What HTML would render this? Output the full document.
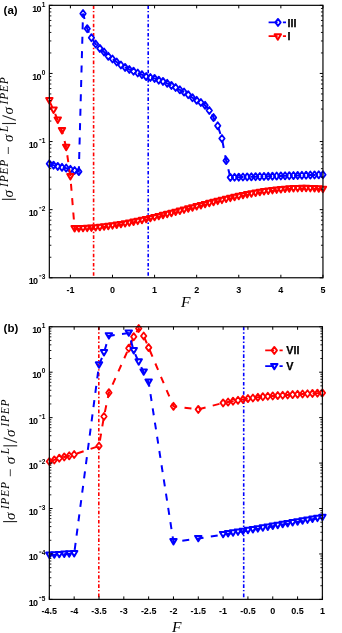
<!DOCTYPE html>
<html><head><meta charset="utf-8"><title>Figure</title><style>
html,body{margin:0;padding:0;background:#fff;}
body{width:342px;height:633px;overflow:hidden;}
svg{display:block;will-change:transform;}
.tk{font-family:"Liberation Sans",sans-serif;font-weight:bold;font-size:9px;fill:#000;}
.ten{letter-spacing:-0.6px;}
.sup{font-size:6.5px;}
.lg{font-family:"Liberation Sans",sans-serif;font-weight:bold;font-size:10.8px;fill:#000;stroke:#000;stroke-width:0.25px;}
.pl{font-family:"Liberation Sans",sans-serif;font-weight:bold;font-size:11.5px;fill:#000;}
.fl{font-family:"Liberation Serif",serif;font-style:italic;font-size:15.5px;fill:#000;}
.ml{font-family:"Liberation Serif",serif;font-style:italic;font-size:15px;fill:#000;}
.ms{font-family:"Liberation Serif",serif;font-style:italic;font-size:11.5px;letter-spacing:0.8px;fill:#000;}
</style></head><body>
<svg width="342" height="633" viewBox="0 0 342 633">
<defs>
<clipPath id="ca"><rect x="49.35" y="5.35" width="273.60" height="272.40"/></clipPath>
<clipPath id="cb"><rect x="49.35" y="326.75" width="273.05" height="272.65"/></clipPath>
</defs>
<rect width="342" height="633" fill="#fff"/>
<line x1="93.60" y1="5.35" x2="93.60" y2="277.75" stroke="#ff0000" stroke-width="1.6" stroke-dasharray="3.6 2 1.4 2.2"/>
<line x1="148.20" y1="5.35" x2="148.20" y2="277.75" stroke="#0000ff" stroke-width="1.6" stroke-dasharray="3.6 2 1.4 2.2"/>
<path d="M49.35,163.80 L53.56,165.20 L57.77,166.40 L61.98,167.30 L66.19,168.10 L70.40,169.30 L74.61,170.50 L78.81,171.60 L83.02,13.60 L87.23,28.70 L91.44,37.70 L95.65,44.00 L99.86,48.40 L104.07,52.00 L108.28,56.30 L112.49,59.00 L116.70,62.00 L120.91,65.00 L125.12,67.40 L129.33,69.50 L133.53,71.20 L137.74,73.00 L141.95,74.70 L146.16,76.60 L150.37,77.50 L154.58,78.40 L158.79,80.20 L163.00,81.40 L167.21,83.30 L171.42,85.40 L175.63,87.50 L179.84,89.80 L184.05,92.10 L188.25,94.70 L192.46,97.70 L196.67,100.30 L200.88,102.50 L205.09,105.30 L209.30,110.50 L213.51,117.60 L217.72,125.80 L221.93,138.50 L226.14,160.60 L230.35,177.40 L234.56,177.28 L238.77,177.15 L242.97,177.03 L247.18,176.91 L251.39,176.79 L255.60,176.66 L259.81,176.54 L264.02,176.42 L268.23,176.30 L272.44,176.17 L276.65,176.05 L280.86,175.93 L285.07,175.80 L289.28,175.68 L293.49,175.56 L297.69,175.44 L301.90,175.31 L306.11,175.19 L310.32,175.07 L314.53,174.95 L318.74,174.82 L322.95,174.70" fill="none" stroke="#0000ff" stroke-width="2" stroke-dasharray="7 7.4" clip-path="url(#ca)"/><polygon points="49.35,160.25 52.05,163.80 49.35,167.35 46.65,163.80" fill="none" stroke="#0000ff" stroke-width="1.8" stroke-linejoin="round"/><polygon points="53.56,161.65 56.26,165.20 53.56,168.75 50.86,165.20" fill="none" stroke="#0000ff" stroke-width="1.8" stroke-linejoin="round"/><polygon points="57.77,162.85 60.47,166.40 57.77,169.95 55.07,166.40" fill="none" stroke="#0000ff" stroke-width="1.8" stroke-linejoin="round"/><polygon points="61.98,163.75 64.68,167.30 61.98,170.85 59.28,167.30" fill="none" stroke="#0000ff" stroke-width="1.8" stroke-linejoin="round"/><polygon points="66.19,164.55 68.89,168.10 66.19,171.65 63.49,168.10" fill="none" stroke="#0000ff" stroke-width="1.8" stroke-linejoin="round"/><polygon points="70.40,165.75 73.10,169.30 70.40,172.85 67.70,169.30" fill="none" stroke="#0000ff" stroke-width="1.8" stroke-linejoin="round"/><polygon points="74.61,166.95 77.31,170.50 74.61,174.05 71.91,170.50" fill="none" stroke="#0000ff" stroke-width="1.8" stroke-linejoin="round"/><polygon points="78.81,168.05 81.51,171.60 78.81,175.15 76.11,171.60" fill="none" stroke="#0000ff" stroke-width="1.8" stroke-linejoin="round"/><polygon points="83.02,10.05 85.72,13.60 83.02,17.15 80.32,13.60" fill="none" stroke="#0000ff" stroke-width="1.8" stroke-linejoin="round"/><polygon points="87.23,25.15 89.93,28.70 87.23,32.25 84.53,28.70" fill="none" stroke="#0000ff" stroke-width="1.8" stroke-linejoin="round"/><polygon points="91.44,34.15 94.14,37.70 91.44,41.25 88.74,37.70" fill="none" stroke="#0000ff" stroke-width="1.8" stroke-linejoin="round"/><polygon points="95.65,40.45 98.35,44.00 95.65,47.55 92.95,44.00" fill="none" stroke="#0000ff" stroke-width="1.8" stroke-linejoin="round"/><polygon points="99.86,44.85 102.56,48.40 99.86,51.95 97.16,48.40" fill="none" stroke="#0000ff" stroke-width="1.8" stroke-linejoin="round"/><polygon points="104.07,48.45 106.77,52.00 104.07,55.55 101.37,52.00" fill="none" stroke="#0000ff" stroke-width="1.8" stroke-linejoin="round"/><polygon points="108.28,52.75 110.98,56.30 108.28,59.85 105.58,56.30" fill="none" stroke="#0000ff" stroke-width="1.8" stroke-linejoin="round"/><polygon points="112.49,55.45 115.19,59.00 112.49,62.55 109.79,59.00" fill="none" stroke="#0000ff" stroke-width="1.8" stroke-linejoin="round"/><polygon points="116.70,58.45 119.40,62.00 116.70,65.55 114.00,62.00" fill="none" stroke="#0000ff" stroke-width="1.8" stroke-linejoin="round"/><polygon points="120.91,61.45 123.61,65.00 120.91,68.55 118.21,65.00" fill="none" stroke="#0000ff" stroke-width="1.8" stroke-linejoin="round"/><polygon points="125.12,63.85 127.82,67.40 125.12,70.95 122.42,67.40" fill="none" stroke="#0000ff" stroke-width="1.8" stroke-linejoin="round"/><polygon points="129.33,65.95 132.03,69.50 129.33,73.05 126.63,69.50" fill="none" stroke="#0000ff" stroke-width="1.8" stroke-linejoin="round"/><polygon points="133.53,67.65 136.23,71.20 133.53,74.75 130.83,71.20" fill="none" stroke="#0000ff" stroke-width="1.8" stroke-linejoin="round"/><polygon points="137.74,69.45 140.44,73.00 137.74,76.55 135.04,73.00" fill="none" stroke="#0000ff" stroke-width="1.8" stroke-linejoin="round"/><polygon points="141.95,71.15 144.65,74.70 141.95,78.25 139.25,74.70" fill="none" stroke="#0000ff" stroke-width="1.8" stroke-linejoin="round"/><polygon points="146.16,73.05 148.86,76.60 146.16,80.15 143.46,76.60" fill="none" stroke="#0000ff" stroke-width="1.8" stroke-linejoin="round"/><polygon points="150.37,73.95 153.07,77.50 150.37,81.05 147.67,77.50" fill="none" stroke="#0000ff" stroke-width="1.8" stroke-linejoin="round"/><polygon points="154.58,74.85 157.28,78.40 154.58,81.95 151.88,78.40" fill="none" stroke="#0000ff" stroke-width="1.8" stroke-linejoin="round"/><polygon points="158.79,76.65 161.49,80.20 158.79,83.75 156.09,80.20" fill="none" stroke="#0000ff" stroke-width="1.8" stroke-linejoin="round"/><polygon points="163.00,77.85 165.70,81.40 163.00,84.95 160.30,81.40" fill="none" stroke="#0000ff" stroke-width="1.8" stroke-linejoin="round"/><polygon points="167.21,79.75 169.91,83.30 167.21,86.85 164.51,83.30" fill="none" stroke="#0000ff" stroke-width="1.8" stroke-linejoin="round"/><polygon points="171.42,81.85 174.12,85.40 171.42,88.95 168.72,85.40" fill="none" stroke="#0000ff" stroke-width="1.8" stroke-linejoin="round"/><polygon points="175.63,83.95 178.33,87.50 175.63,91.05 172.93,87.50" fill="none" stroke="#0000ff" stroke-width="1.8" stroke-linejoin="round"/><polygon points="179.84,86.25 182.54,89.80 179.84,93.35 177.14,89.80" fill="none" stroke="#0000ff" stroke-width="1.8" stroke-linejoin="round"/><polygon points="184.05,88.55 186.75,92.10 184.05,95.65 181.35,92.10" fill="none" stroke="#0000ff" stroke-width="1.8" stroke-linejoin="round"/><polygon points="188.25,91.15 190.95,94.70 188.25,98.25 185.55,94.70" fill="none" stroke="#0000ff" stroke-width="1.8" stroke-linejoin="round"/><polygon points="192.46,94.15 195.16,97.70 192.46,101.25 189.76,97.70" fill="none" stroke="#0000ff" stroke-width="1.8" stroke-linejoin="round"/><polygon points="196.67,96.75 199.37,100.30 196.67,103.85 193.97,100.30" fill="none" stroke="#0000ff" stroke-width="1.8" stroke-linejoin="round"/><polygon points="200.88,98.95 203.58,102.50 200.88,106.05 198.18,102.50" fill="none" stroke="#0000ff" stroke-width="1.8" stroke-linejoin="round"/><polygon points="205.09,101.75 207.79,105.30 205.09,108.85 202.39,105.30" fill="none" stroke="#0000ff" stroke-width="1.8" stroke-linejoin="round"/><polygon points="209.30,106.95 212.00,110.50 209.30,114.05 206.60,110.50" fill="none" stroke="#0000ff" stroke-width="1.8" stroke-linejoin="round"/><polygon points="213.51,114.05 216.21,117.60 213.51,121.15 210.81,117.60" fill="none" stroke="#0000ff" stroke-width="1.8" stroke-linejoin="round"/><polygon points="217.72,122.25 220.42,125.80 217.72,129.35 215.02,125.80" fill="none" stroke="#0000ff" stroke-width="1.8" stroke-linejoin="round"/><polygon points="221.93,134.95 224.63,138.50 221.93,142.05 219.23,138.50" fill="none" stroke="#0000ff" stroke-width="1.8" stroke-linejoin="round"/><polygon points="226.14,157.05 228.84,160.60 226.14,164.15 223.44,160.60" fill="none" stroke="#0000ff" stroke-width="1.8" stroke-linejoin="round"/><polygon points="230.35,173.85 233.05,177.40 230.35,180.95 227.65,177.40" fill="none" stroke="#0000ff" stroke-width="1.8" stroke-linejoin="round"/><polygon points="234.56,173.73 237.26,177.28 234.56,180.83 231.86,177.28" fill="none" stroke="#0000ff" stroke-width="1.8" stroke-linejoin="round"/><polygon points="238.77,173.60 241.47,177.15 238.77,180.70 236.07,177.15" fill="none" stroke="#0000ff" stroke-width="1.8" stroke-linejoin="round"/><polygon points="242.97,173.48 245.67,177.03 242.97,180.58 240.27,177.03" fill="none" stroke="#0000ff" stroke-width="1.8" stroke-linejoin="round"/><polygon points="247.18,173.36 249.88,176.91 247.18,180.46 244.48,176.91" fill="none" stroke="#0000ff" stroke-width="1.8" stroke-linejoin="round"/><polygon points="251.39,173.24 254.09,176.79 251.39,180.34 248.69,176.79" fill="none" stroke="#0000ff" stroke-width="1.8" stroke-linejoin="round"/><polygon points="255.60,173.11 258.30,176.66 255.60,180.21 252.90,176.66" fill="none" stroke="#0000ff" stroke-width="1.8" stroke-linejoin="round"/><polygon points="259.81,172.99 262.51,176.54 259.81,180.09 257.11,176.54" fill="none" stroke="#0000ff" stroke-width="1.8" stroke-linejoin="round"/><polygon points="264.02,172.87 266.72,176.42 264.02,179.97 261.32,176.42" fill="none" stroke="#0000ff" stroke-width="1.8" stroke-linejoin="round"/><polygon points="268.23,172.75 270.93,176.30 268.23,179.85 265.53,176.30" fill="none" stroke="#0000ff" stroke-width="1.8" stroke-linejoin="round"/><polygon points="272.44,172.62 275.14,176.17 272.44,179.72 269.74,176.17" fill="none" stroke="#0000ff" stroke-width="1.8" stroke-linejoin="round"/><polygon points="276.65,172.50 279.35,176.05 276.65,179.60 273.95,176.05" fill="none" stroke="#0000ff" stroke-width="1.8" stroke-linejoin="round"/><polygon points="280.86,172.38 283.56,175.93 280.86,179.48 278.16,175.93" fill="none" stroke="#0000ff" stroke-width="1.8" stroke-linejoin="round"/><polygon points="285.07,172.25 287.77,175.80 285.07,179.35 282.37,175.80" fill="none" stroke="#0000ff" stroke-width="1.8" stroke-linejoin="round"/><polygon points="289.28,172.13 291.98,175.68 289.28,179.23 286.58,175.68" fill="none" stroke="#0000ff" stroke-width="1.8" stroke-linejoin="round"/><polygon points="293.49,172.01 296.19,175.56 293.49,179.11 290.79,175.56" fill="none" stroke="#0000ff" stroke-width="1.8" stroke-linejoin="round"/><polygon points="297.69,171.89 300.39,175.44 297.69,178.99 294.99,175.44" fill="none" stroke="#0000ff" stroke-width="1.8" stroke-linejoin="round"/><polygon points="301.90,171.76 304.60,175.31 301.90,178.86 299.20,175.31" fill="none" stroke="#0000ff" stroke-width="1.8" stroke-linejoin="round"/><polygon points="306.11,171.64 308.81,175.19 306.11,178.74 303.41,175.19" fill="none" stroke="#0000ff" stroke-width="1.8" stroke-linejoin="round"/><polygon points="310.32,171.52 313.02,175.07 310.32,178.62 307.62,175.07" fill="none" stroke="#0000ff" stroke-width="1.8" stroke-linejoin="round"/><polygon points="314.53,171.40 317.23,174.95 314.53,178.50 311.83,174.95" fill="none" stroke="#0000ff" stroke-width="1.8" stroke-linejoin="round"/><polygon points="318.74,171.27 321.44,174.82 318.74,178.37 316.04,174.82" fill="none" stroke="#0000ff" stroke-width="1.8" stroke-linejoin="round"/><polygon points="322.95,171.15 325.65,174.70 322.95,178.25 320.25,174.70" fill="none" stroke="#0000ff" stroke-width="1.8" stroke-linejoin="round"/>
<path d="M49.35,100.80 L53.56,110.20 L57.77,120.20 L61.98,130.70 L66.19,147.50 L70.40,176.80 L74.61,228.70 L78.81,228.68 L83.02,228.58 L87.23,228.40 L91.44,228.15 L95.65,227.83 L99.86,227.44 L104.07,226.99 L108.28,226.47 L112.49,225.90 L116.70,225.27 L120.91,224.59 L125.12,223.86 L129.33,223.09 L133.53,222.27 L137.74,221.41 L141.95,220.51 L146.16,219.58 L150.37,218.61 L154.58,217.62 L158.79,216.61 L163.00,215.57 L167.21,214.51 L171.42,213.44 L175.63,212.35 L179.84,211.25 L184.05,210.15 L188.25,209.04 L192.46,207.93 L196.67,206.82 L200.88,205.72 L205.09,204.62 L209.30,203.54 L213.51,202.47 L217.72,201.41 L221.93,200.38 L226.14,199.37 L230.35,198.39 L234.56,197.43 L238.77,196.51 L242.97,195.62 L247.18,194.77 L251.39,193.96 L255.60,193.20 L259.81,192.48 L264.02,191.81 L268.23,191.20 L272.44,190.64 L276.65,190.14 L280.86,189.70 L285.07,189.33 L289.28,189.03 L293.49,188.79 L297.69,188.64 L301.90,188.56 L306.11,188.56 L310.32,188.64 L314.53,188.81 L318.74,189.07 L322.95,189.42" fill="none" stroke="#ff0000" stroke-width="2" stroke-dasharray="7 7.4" clip-path="url(#ca)"/><polygon points="46.15,98.10 52.55,98.10 49.35,103.50" fill="none" stroke="#ff0000" stroke-width="2.0" stroke-linejoin="round"/><polygon points="50.36,107.50 56.76,107.50 53.56,112.90" fill="none" stroke="#ff0000" stroke-width="2.0" stroke-linejoin="round"/><polygon points="54.57,117.50 60.97,117.50 57.77,122.90" fill="none" stroke="#ff0000" stroke-width="2.0" stroke-linejoin="round"/><polygon points="58.78,128.00 65.18,128.00 61.98,133.40" fill="none" stroke="#ff0000" stroke-width="2.0" stroke-linejoin="round"/><polygon points="62.99,144.80 69.39,144.80 66.19,150.20" fill="none" stroke="#ff0000" stroke-width="2.0" stroke-linejoin="round"/><polygon points="67.20,174.10 73.60,174.10 70.40,179.50" fill="none" stroke="#ff0000" stroke-width="2.0" stroke-linejoin="round"/><polygon points="71.41,226.00 77.81,226.00 74.61,231.40" fill="none" stroke="#ff0000" stroke-width="2.0" stroke-linejoin="round"/><polygon points="75.61,225.98 82.01,225.98 78.81,231.38" fill="none" stroke="#ff0000" stroke-width="2.0" stroke-linejoin="round"/><polygon points="79.82,225.88 86.22,225.88 83.02,231.28" fill="none" stroke="#ff0000" stroke-width="2.0" stroke-linejoin="round"/><polygon points="84.03,225.70 90.43,225.70 87.23,231.10" fill="none" stroke="#ff0000" stroke-width="2.0" stroke-linejoin="round"/><polygon points="88.24,225.45 94.64,225.45 91.44,230.85" fill="none" stroke="#ff0000" stroke-width="2.0" stroke-linejoin="round"/><polygon points="92.45,225.13 98.85,225.13 95.65,230.53" fill="none" stroke="#ff0000" stroke-width="2.0" stroke-linejoin="round"/><polygon points="96.66,224.74 103.06,224.74 99.86,230.14" fill="none" stroke="#ff0000" stroke-width="2.0" stroke-linejoin="round"/><polygon points="100.87,224.29 107.27,224.29 104.07,229.69" fill="none" stroke="#ff0000" stroke-width="2.0" stroke-linejoin="round"/><polygon points="105.08,223.77 111.48,223.77 108.28,229.17" fill="none" stroke="#ff0000" stroke-width="2.0" stroke-linejoin="round"/><polygon points="109.29,223.20 115.69,223.20 112.49,228.60" fill="none" stroke="#ff0000" stroke-width="2.0" stroke-linejoin="round"/><polygon points="113.50,222.57 119.90,222.57 116.70,227.97" fill="none" stroke="#ff0000" stroke-width="2.0" stroke-linejoin="round"/><polygon points="117.71,221.89 124.11,221.89 120.91,227.29" fill="none" stroke="#ff0000" stroke-width="2.0" stroke-linejoin="round"/><polygon points="121.92,221.16 128.32,221.16 125.12,226.56" fill="none" stroke="#ff0000" stroke-width="2.0" stroke-linejoin="round"/><polygon points="126.13,220.39 132.53,220.39 129.33,225.79" fill="none" stroke="#ff0000" stroke-width="2.0" stroke-linejoin="round"/><polygon points="130.33,219.57 136.73,219.57 133.53,224.97" fill="none" stroke="#ff0000" stroke-width="2.0" stroke-linejoin="round"/><polygon points="134.54,218.71 140.94,218.71 137.74,224.11" fill="none" stroke="#ff0000" stroke-width="2.0" stroke-linejoin="round"/><polygon points="138.75,217.81 145.15,217.81 141.95,223.21" fill="none" stroke="#ff0000" stroke-width="2.0" stroke-linejoin="round"/><polygon points="142.96,216.88 149.36,216.88 146.16,222.28" fill="none" stroke="#ff0000" stroke-width="2.0" stroke-linejoin="round"/><polygon points="147.17,215.91 153.57,215.91 150.37,221.31" fill="none" stroke="#ff0000" stroke-width="2.0" stroke-linejoin="round"/><polygon points="151.38,214.92 157.78,214.92 154.58,220.32" fill="none" stroke="#ff0000" stroke-width="2.0" stroke-linejoin="round"/><polygon points="155.59,213.91 161.99,213.91 158.79,219.31" fill="none" stroke="#ff0000" stroke-width="2.0" stroke-linejoin="round"/><polygon points="159.80,212.87 166.20,212.87 163.00,218.27" fill="none" stroke="#ff0000" stroke-width="2.0" stroke-linejoin="round"/><polygon points="164.01,211.81 170.41,211.81 167.21,217.21" fill="none" stroke="#ff0000" stroke-width="2.0" stroke-linejoin="round"/><polygon points="168.22,210.74 174.62,210.74 171.42,216.14" fill="none" stroke="#ff0000" stroke-width="2.0" stroke-linejoin="round"/><polygon points="172.43,209.65 178.83,209.65 175.63,215.05" fill="none" stroke="#ff0000" stroke-width="2.0" stroke-linejoin="round"/><polygon points="176.64,208.55 183.04,208.55 179.84,213.95" fill="none" stroke="#ff0000" stroke-width="2.0" stroke-linejoin="round"/><polygon points="180.85,207.45 187.25,207.45 184.05,212.85" fill="none" stroke="#ff0000" stroke-width="2.0" stroke-linejoin="round"/><polygon points="185.05,206.34 191.45,206.34 188.25,211.74" fill="none" stroke="#ff0000" stroke-width="2.0" stroke-linejoin="round"/><polygon points="189.26,205.23 195.66,205.23 192.46,210.63" fill="none" stroke="#ff0000" stroke-width="2.0" stroke-linejoin="round"/><polygon points="193.47,204.12 199.87,204.12 196.67,209.52" fill="none" stroke="#ff0000" stroke-width="2.0" stroke-linejoin="round"/><polygon points="197.68,203.02 204.08,203.02 200.88,208.42" fill="none" stroke="#ff0000" stroke-width="2.0" stroke-linejoin="round"/><polygon points="201.89,201.92 208.29,201.92 205.09,207.32" fill="none" stroke="#ff0000" stroke-width="2.0" stroke-linejoin="round"/><polygon points="206.10,200.84 212.50,200.84 209.30,206.24" fill="none" stroke="#ff0000" stroke-width="2.0" stroke-linejoin="round"/><polygon points="210.31,199.77 216.71,199.77 213.51,205.17" fill="none" stroke="#ff0000" stroke-width="2.0" stroke-linejoin="round"/><polygon points="214.52,198.71 220.92,198.71 217.72,204.11" fill="none" stroke="#ff0000" stroke-width="2.0" stroke-linejoin="round"/><polygon points="218.73,197.68 225.13,197.68 221.93,203.08" fill="none" stroke="#ff0000" stroke-width="2.0" stroke-linejoin="round"/><polygon points="222.94,196.67 229.34,196.67 226.14,202.07" fill="none" stroke="#ff0000" stroke-width="2.0" stroke-linejoin="round"/><polygon points="227.15,195.69 233.55,195.69 230.35,201.09" fill="none" stroke="#ff0000" stroke-width="2.0" stroke-linejoin="round"/><polygon points="231.36,194.73 237.76,194.73 234.56,200.13" fill="none" stroke="#ff0000" stroke-width="2.0" stroke-linejoin="round"/><polygon points="235.57,193.81 241.97,193.81 238.77,199.21" fill="none" stroke="#ff0000" stroke-width="2.0" stroke-linejoin="round"/><polygon points="239.77,192.92 246.17,192.92 242.97,198.32" fill="none" stroke="#ff0000" stroke-width="2.0" stroke-linejoin="round"/><polygon points="243.98,192.07 250.38,192.07 247.18,197.47" fill="none" stroke="#ff0000" stroke-width="2.0" stroke-linejoin="round"/><polygon points="248.19,191.26 254.59,191.26 251.39,196.66" fill="none" stroke="#ff0000" stroke-width="2.0" stroke-linejoin="round"/><polygon points="252.40,190.50 258.80,190.50 255.60,195.90" fill="none" stroke="#ff0000" stroke-width="2.0" stroke-linejoin="round"/><polygon points="256.61,189.78 263.01,189.78 259.81,195.18" fill="none" stroke="#ff0000" stroke-width="2.0" stroke-linejoin="round"/><polygon points="260.82,189.11 267.22,189.11 264.02,194.51" fill="none" stroke="#ff0000" stroke-width="2.0" stroke-linejoin="round"/><polygon points="265.03,188.50 271.43,188.50 268.23,193.90" fill="none" stroke="#ff0000" stroke-width="2.0" stroke-linejoin="round"/><polygon points="269.24,187.94 275.64,187.94 272.44,193.34" fill="none" stroke="#ff0000" stroke-width="2.0" stroke-linejoin="round"/><polygon points="273.45,187.44 279.85,187.44 276.65,192.84" fill="none" stroke="#ff0000" stroke-width="2.0" stroke-linejoin="round"/><polygon points="277.66,187.00 284.06,187.00 280.86,192.40" fill="none" stroke="#ff0000" stroke-width="2.0" stroke-linejoin="round"/><polygon points="281.87,186.63 288.27,186.63 285.07,192.03" fill="none" stroke="#ff0000" stroke-width="2.0" stroke-linejoin="round"/><polygon points="286.08,186.33 292.48,186.33 289.28,191.73" fill="none" stroke="#ff0000" stroke-width="2.0" stroke-linejoin="round"/><polygon points="290.29,186.09 296.69,186.09 293.49,191.49" fill="none" stroke="#ff0000" stroke-width="2.0" stroke-linejoin="round"/><polygon points="294.49,185.94 300.89,185.94 297.69,191.34" fill="none" stroke="#ff0000" stroke-width="2.0" stroke-linejoin="round"/><polygon points="298.70,185.86 305.10,185.86 301.90,191.26" fill="none" stroke="#ff0000" stroke-width="2.0" stroke-linejoin="round"/><polygon points="302.91,185.86 309.31,185.86 306.11,191.26" fill="none" stroke="#ff0000" stroke-width="2.0" stroke-linejoin="round"/><polygon points="307.12,185.94 313.52,185.94 310.32,191.34" fill="none" stroke="#ff0000" stroke-width="2.0" stroke-linejoin="round"/><polygon points="311.33,186.11 317.73,186.11 314.53,191.51" fill="none" stroke="#ff0000" stroke-width="2.0" stroke-linejoin="round"/><polygon points="315.54,186.37 321.94,186.37 318.74,191.77" fill="none" stroke="#ff0000" stroke-width="2.0" stroke-linejoin="round"/><polygon points="319.75,186.72 326.15,186.72 322.95,192.12" fill="none" stroke="#ff0000" stroke-width="2.0" stroke-linejoin="round"/>
<rect x="49.35" y="5.35" width="273.60" height="272.40" fill="none" stroke="#111" stroke-width="1.25"/><line x1="70.40" y1="277.75" x2="70.40" y2="274.75" stroke="#000" stroke-width="1"/><line x1="70.40" y1="5.35" x2="70.40" y2="8.35" stroke="#000" stroke-width="1"/><line x1="112.49" y1="277.75" x2="112.49" y2="274.75" stroke="#000" stroke-width="1"/><line x1="112.49" y1="5.35" x2="112.49" y2="8.35" stroke="#000" stroke-width="1"/><line x1="154.58" y1="277.75" x2="154.58" y2="274.75" stroke="#000" stroke-width="1"/><line x1="154.58" y1="5.35" x2="154.58" y2="8.35" stroke="#000" stroke-width="1"/><line x1="196.67" y1="277.75" x2="196.67" y2="274.75" stroke="#000" stroke-width="1"/><line x1="196.67" y1="5.35" x2="196.67" y2="8.35" stroke="#000" stroke-width="1"/><line x1="238.77" y1="277.75" x2="238.77" y2="274.75" stroke="#000" stroke-width="1"/><line x1="238.77" y1="5.35" x2="238.77" y2="8.35" stroke="#000" stroke-width="1"/><line x1="280.86" y1="277.75" x2="280.86" y2="274.75" stroke="#000" stroke-width="1"/><line x1="280.86" y1="5.35" x2="280.86" y2="8.35" stroke="#000" stroke-width="1"/><line x1="322.95" y1="277.75" x2="322.95" y2="274.75" stroke="#000" stroke-width="1"/><line x1="322.95" y1="5.35" x2="322.95" y2="8.35" stroke="#000" stroke-width="1"/><line x1="49.35" y1="277.75" x2="52.55" y2="277.75" stroke="#000" stroke-width="1"/><line x1="322.95" y1="277.75" x2="319.75" y2="277.75" stroke="#000" stroke-width="1"/><line x1="49.35" y1="257.25" x2="51.35" y2="257.25" stroke="#000" stroke-width="0.9"/><line x1="322.95" y1="257.25" x2="320.95" y2="257.25" stroke="#000" stroke-width="0.9"/><line x1="49.35" y1="245.26" x2="51.35" y2="245.26" stroke="#000" stroke-width="0.9"/><line x1="322.95" y1="245.26" x2="320.95" y2="245.26" stroke="#000" stroke-width="0.9"/><line x1="49.35" y1="236.75" x2="51.35" y2="236.75" stroke="#000" stroke-width="0.9"/><line x1="322.95" y1="236.75" x2="320.95" y2="236.75" stroke="#000" stroke-width="0.9"/><line x1="49.35" y1="230.15" x2="51.35" y2="230.15" stroke="#000" stroke-width="0.9"/><line x1="322.95" y1="230.15" x2="320.95" y2="230.15" stroke="#000" stroke-width="0.9"/><line x1="49.35" y1="224.76" x2="51.35" y2="224.76" stroke="#000" stroke-width="0.9"/><line x1="322.95" y1="224.76" x2="320.95" y2="224.76" stroke="#000" stroke-width="0.9"/><line x1="49.35" y1="220.20" x2="51.35" y2="220.20" stroke="#000" stroke-width="0.9"/><line x1="322.95" y1="220.20" x2="320.95" y2="220.20" stroke="#000" stroke-width="0.9"/><line x1="49.35" y1="216.25" x2="51.35" y2="216.25" stroke="#000" stroke-width="0.9"/><line x1="322.95" y1="216.25" x2="320.95" y2="216.25" stroke="#000" stroke-width="0.9"/><line x1="49.35" y1="212.77" x2="51.35" y2="212.77" stroke="#000" stroke-width="0.9"/><line x1="322.95" y1="212.77" x2="320.95" y2="212.77" stroke="#000" stroke-width="0.9"/><line x1="49.35" y1="209.65" x2="52.55" y2="209.65" stroke="#000" stroke-width="1"/><line x1="322.95" y1="209.65" x2="319.75" y2="209.65" stroke="#000" stroke-width="1"/><line x1="49.35" y1="189.15" x2="51.35" y2="189.15" stroke="#000" stroke-width="0.9"/><line x1="322.95" y1="189.15" x2="320.95" y2="189.15" stroke="#000" stroke-width="0.9"/><line x1="49.35" y1="177.16" x2="51.35" y2="177.16" stroke="#000" stroke-width="0.9"/><line x1="322.95" y1="177.16" x2="320.95" y2="177.16" stroke="#000" stroke-width="0.9"/><line x1="49.35" y1="168.65" x2="51.35" y2="168.65" stroke="#000" stroke-width="0.9"/><line x1="322.95" y1="168.65" x2="320.95" y2="168.65" stroke="#000" stroke-width="0.9"/><line x1="49.35" y1="162.05" x2="51.35" y2="162.05" stroke="#000" stroke-width="0.9"/><line x1="322.95" y1="162.05" x2="320.95" y2="162.05" stroke="#000" stroke-width="0.9"/><line x1="49.35" y1="156.66" x2="51.35" y2="156.66" stroke="#000" stroke-width="0.9"/><line x1="322.95" y1="156.66" x2="320.95" y2="156.66" stroke="#000" stroke-width="0.9"/><line x1="49.35" y1="152.10" x2="51.35" y2="152.10" stroke="#000" stroke-width="0.9"/><line x1="322.95" y1="152.10" x2="320.95" y2="152.10" stroke="#000" stroke-width="0.9"/><line x1="49.35" y1="148.15" x2="51.35" y2="148.15" stroke="#000" stroke-width="0.9"/><line x1="322.95" y1="148.15" x2="320.95" y2="148.15" stroke="#000" stroke-width="0.9"/><line x1="49.35" y1="144.67" x2="51.35" y2="144.67" stroke="#000" stroke-width="0.9"/><line x1="322.95" y1="144.67" x2="320.95" y2="144.67" stroke="#000" stroke-width="0.9"/><line x1="49.35" y1="141.55" x2="52.55" y2="141.55" stroke="#000" stroke-width="1"/><line x1="322.95" y1="141.55" x2="319.75" y2="141.55" stroke="#000" stroke-width="1"/><line x1="49.35" y1="121.05" x2="51.35" y2="121.05" stroke="#000" stroke-width="0.9"/><line x1="322.95" y1="121.05" x2="320.95" y2="121.05" stroke="#000" stroke-width="0.9"/><line x1="49.35" y1="109.06" x2="51.35" y2="109.06" stroke="#000" stroke-width="0.9"/><line x1="322.95" y1="109.06" x2="320.95" y2="109.06" stroke="#000" stroke-width="0.9"/><line x1="49.35" y1="100.55" x2="51.35" y2="100.55" stroke="#000" stroke-width="0.9"/><line x1="322.95" y1="100.55" x2="320.95" y2="100.55" stroke="#000" stroke-width="0.9"/><line x1="49.35" y1="93.95" x2="51.35" y2="93.95" stroke="#000" stroke-width="0.9"/><line x1="322.95" y1="93.95" x2="320.95" y2="93.95" stroke="#000" stroke-width="0.9"/><line x1="49.35" y1="88.56" x2="51.35" y2="88.56" stroke="#000" stroke-width="0.9"/><line x1="322.95" y1="88.56" x2="320.95" y2="88.56" stroke="#000" stroke-width="0.9"/><line x1="49.35" y1="84.00" x2="51.35" y2="84.00" stroke="#000" stroke-width="0.9"/><line x1="322.95" y1="84.00" x2="320.95" y2="84.00" stroke="#000" stroke-width="0.9"/><line x1="49.35" y1="80.05" x2="51.35" y2="80.05" stroke="#000" stroke-width="0.9"/><line x1="322.95" y1="80.05" x2="320.95" y2="80.05" stroke="#000" stroke-width="0.9"/><line x1="49.35" y1="76.57" x2="51.35" y2="76.57" stroke="#000" stroke-width="0.9"/><line x1="322.95" y1="76.57" x2="320.95" y2="76.57" stroke="#000" stroke-width="0.9"/><line x1="49.35" y1="73.45" x2="52.55" y2="73.45" stroke="#000" stroke-width="1"/><line x1="322.95" y1="73.45" x2="319.75" y2="73.45" stroke="#000" stroke-width="1"/><line x1="49.35" y1="52.95" x2="51.35" y2="52.95" stroke="#000" stroke-width="0.9"/><line x1="322.95" y1="52.95" x2="320.95" y2="52.95" stroke="#000" stroke-width="0.9"/><line x1="49.35" y1="40.96" x2="51.35" y2="40.96" stroke="#000" stroke-width="0.9"/><line x1="322.95" y1="40.96" x2="320.95" y2="40.96" stroke="#000" stroke-width="0.9"/><line x1="49.35" y1="32.45" x2="51.35" y2="32.45" stroke="#000" stroke-width="0.9"/><line x1="322.95" y1="32.45" x2="320.95" y2="32.45" stroke="#000" stroke-width="0.9"/><line x1="49.35" y1="25.85" x2="51.35" y2="25.85" stroke="#000" stroke-width="0.9"/><line x1="322.95" y1="25.85" x2="320.95" y2="25.85" stroke="#000" stroke-width="0.9"/><line x1="49.35" y1="20.46" x2="51.35" y2="20.46" stroke="#000" stroke-width="0.9"/><line x1="322.95" y1="20.46" x2="320.95" y2="20.46" stroke="#000" stroke-width="0.9"/><line x1="49.35" y1="15.90" x2="51.35" y2="15.90" stroke="#000" stroke-width="0.9"/><line x1="322.95" y1="15.90" x2="320.95" y2="15.90" stroke="#000" stroke-width="0.9"/><line x1="49.35" y1="11.95" x2="51.35" y2="11.95" stroke="#000" stroke-width="0.9"/><line x1="322.95" y1="11.95" x2="320.95" y2="11.95" stroke="#000" stroke-width="0.9"/><line x1="49.35" y1="8.47" x2="51.35" y2="8.47" stroke="#000" stroke-width="0.9"/><line x1="322.95" y1="8.47" x2="320.95" y2="8.47" stroke="#000" stroke-width="0.9"/><line x1="49.35" y1="5.35" x2="52.55" y2="5.35" stroke="#000" stroke-width="1"/><line x1="322.95" y1="5.35" x2="319.75" y2="5.35" stroke="#000" stroke-width="1"/>
<text x="70.40" y="292.55" class="tk" text-anchor="middle">-1</text><text x="112.49" y="292.55" class="tk" text-anchor="middle">0</text><text x="154.58" y="292.55" class="tk" text-anchor="middle">1</text><text x="196.67" y="292.55" class="tk" text-anchor="middle">2</text><text x="238.77" y="292.55" class="tk" text-anchor="middle">3</text><text x="280.86" y="292.55" class="tk" text-anchor="middle">4</text><text x="322.95" y="292.55" class="tk" text-anchor="middle">5</text><text x="45.35" y="278.95" class="tk sup" text-anchor="end">3</text><rect x="39.25" y="275.25" width="2.1" height="1.2" fill="#333"/><text x="37.52" y="283.95" class="tk ten" text-anchor="end">10</text><text x="45.35" y="210.85" class="tk sup" text-anchor="end">2</text><rect x="39.25" y="207.15" width="2.1" height="1.2" fill="#333"/><text x="37.52" y="215.85" class="tk ten" text-anchor="end">10</text><text x="45.35" y="142.75" class="tk sup" text-anchor="end">1</text><rect x="39.25" y="139.05" width="2.1" height="1.2" fill="#333"/><text x="37.52" y="147.75" class="tk ten" text-anchor="end">10</text><text x="45.35" y="74.65" class="tk sup" text-anchor="end">0</text><text x="41.01" y="79.65" class="tk ten" text-anchor="end">10</text><text x="45.35" y="6.55" class="tk sup" text-anchor="end">1</text><text x="41.01" y="11.55" class="tk ten" text-anchor="end">10</text>
<line x1="268.6" y1="22.3" x2="286" y2="22.3" stroke="#0000ff" stroke-width="1.8" stroke-dasharray="9 5.3 3.2"/>
<polygon points="278.00,18.85 280.70,22.40 278.00,25.95 275.30,22.40" fill="none" stroke="#0000ff" stroke-width="1.8" stroke-linejoin="round"/>
<text x="287.6" y="26.6" class="lg">III</text>
<line x1="268.6" y1="36.1" x2="286" y2="36.1" stroke="#ff0000" stroke-width="1.8" stroke-dasharray="9 5.3 3.2"/>
<polygon points="274.60,34.30 281.00,34.30 277.80,39.70" fill="none" stroke="#ff0000" stroke-width="2.0" stroke-linejoin="round"/>
<text x="287.6" y="40.2" class="lg">I</text>
<text x="3.6" y="13.9" class="pl">(a)</text>
<text x="181" y="307" class="fl">F</text>
<g transform="translate(13.30,200.00) rotate(-90)"><text x="2.40" y="0.00" class="ml">σ</text><text x="13.00" y="-5.70" class="ms">IPEP</text><text x="44.00" y="0.00" class="ml">−</text><text x="58.00" y="0.00" class="ml">σ</text><text x="68.00" y="-5.70" class="ms">L</text><text x="85.40" y="0.00" class="ml">σ</text><text x="95.50" y="-5.70" class="ms">IPEP</text></g><line x1="1.90" y1="199.30" x2="15.90" y2="199.30" stroke="#222" stroke-width="1.1"/><line x1="2.10" y1="123.50" x2="16.00" y2="123.50" stroke="#222" stroke-width="1.1"/><line x1="2.50" y1="115.40" x2="15.80" y2="120.30" stroke="#222" stroke-width="1.1"/>
<line x1="98.80" y1="326.75" x2="98.80" y2="599.40" stroke="#ff0000" stroke-width="1.6" stroke-dasharray="3.6 2 1.4 2.2"/>
<line x1="243.70" y1="326.75" x2="243.70" y2="599.40" stroke="#0000ff" stroke-width="1.6" stroke-dasharray="3.6 2 1.4 2.2"/>
<path d="M49.35,461.50 L54.31,459.90 L59.28,458.20 L64.24,456.90 L69.21,455.80 L74.17,454.50 L99.00,446.00 L103.96,416.50 L108.92,392.70 L128.78,348.20 L133.75,336.70 L138.71,328.50 L143.68,336.00 L148.64,347.60 L173.46,406.30 L198.29,409.40 L223.11,402.90 L228.07,402.04 L233.04,401.18 L238.00,400.32 L242.97,399.46 L247.93,398.60 L252.90,397.97 L257.86,397.34 L262.83,396.71 L267.79,396.24 L272.75,395.92 L277.72,395.59 L282.68,395.27 L287.65,394.95 L292.61,394.62 L297.58,394.30 L302.54,394.02 L307.51,393.74 L312.47,393.46 L317.44,393.18 L322.40,392.90" fill="none" stroke="#ff0000" stroke-width="2" stroke-dasharray="7 7.4" clip-path="url(#cb)"/><polygon points="49.35,457.95 52.05,461.50 49.35,465.05 46.65,461.50" fill="none" stroke="#ff0000" stroke-width="1.8" stroke-linejoin="round"/><polygon points="54.31,456.35 57.01,459.90 54.31,463.45 51.61,459.90" fill="none" stroke="#ff0000" stroke-width="1.8" stroke-linejoin="round"/><polygon points="59.28,454.65 61.98,458.20 59.28,461.75 56.58,458.20" fill="none" stroke="#ff0000" stroke-width="1.8" stroke-linejoin="round"/><polygon points="64.24,453.35 66.94,456.90 64.24,460.45 61.54,456.90" fill="none" stroke="#ff0000" stroke-width="1.8" stroke-linejoin="round"/><polygon points="69.21,452.25 71.91,455.80 69.21,459.35 66.51,455.80" fill="none" stroke="#ff0000" stroke-width="1.8" stroke-linejoin="round"/><polygon points="74.17,450.95 76.87,454.50 74.17,458.05 71.47,454.50" fill="none" stroke="#ff0000" stroke-width="1.8" stroke-linejoin="round"/><polygon points="99.00,442.45 101.70,446.00 99.00,449.55 96.30,446.00" fill="none" stroke="#ff0000" stroke-width="1.8" stroke-linejoin="round"/><polygon points="103.96,412.95 106.66,416.50 103.96,420.05 101.26,416.50" fill="none" stroke="#ff0000" stroke-width="1.8" stroke-linejoin="round"/><polygon points="108.92,389.15 111.62,392.70 108.92,396.25 106.22,392.70" fill="none" stroke="#ff0000" stroke-width="1.8" stroke-linejoin="round"/><polygon points="128.78,344.65 131.48,348.20 128.78,351.75 126.08,348.20" fill="none" stroke="#ff0000" stroke-width="1.8" stroke-linejoin="round"/><polygon points="133.75,333.15 136.45,336.70 133.75,340.25 131.05,336.70" fill="none" stroke="#ff0000" stroke-width="1.8" stroke-linejoin="round"/><polygon points="138.71,324.95 141.41,328.50 138.71,332.05 136.01,328.50" fill="none" stroke="#ff0000" stroke-width="1.8" stroke-linejoin="round"/><polygon points="143.68,332.45 146.38,336.00 143.68,339.55 140.98,336.00" fill="none" stroke="#ff0000" stroke-width="1.8" stroke-linejoin="round"/><polygon points="148.64,344.05 151.34,347.60 148.64,351.15 145.94,347.60" fill="none" stroke="#ff0000" stroke-width="1.8" stroke-linejoin="round"/><polygon points="173.46,402.75 176.16,406.30 173.46,409.85 170.76,406.30" fill="none" stroke="#ff0000" stroke-width="1.8" stroke-linejoin="round"/><polygon points="198.29,405.85 200.99,409.40 198.29,412.95 195.59,409.40" fill="none" stroke="#ff0000" stroke-width="1.8" stroke-linejoin="round"/><polygon points="223.11,399.35 225.81,402.90 223.11,406.45 220.41,402.90" fill="none" stroke="#ff0000" stroke-width="1.8" stroke-linejoin="round"/><polygon points="228.07,398.49 230.77,402.04 228.07,405.59 225.37,402.04" fill="none" stroke="#ff0000" stroke-width="1.8" stroke-linejoin="round"/><polygon points="233.04,397.63 235.74,401.18 233.04,404.73 230.34,401.18" fill="none" stroke="#ff0000" stroke-width="1.8" stroke-linejoin="round"/><polygon points="238.00,396.77 240.70,400.32 238.00,403.87 235.30,400.32" fill="none" stroke="#ff0000" stroke-width="1.8" stroke-linejoin="round"/><polygon points="242.97,395.91 245.67,399.46 242.97,403.01 240.27,399.46" fill="none" stroke="#ff0000" stroke-width="1.8" stroke-linejoin="round"/><polygon points="247.93,395.05 250.63,398.60 247.93,402.15 245.23,398.60" fill="none" stroke="#ff0000" stroke-width="1.8" stroke-linejoin="round"/><polygon points="252.90,394.42 255.60,397.97 252.90,401.52 250.20,397.97" fill="none" stroke="#ff0000" stroke-width="1.8" stroke-linejoin="round"/><polygon points="257.86,393.79 260.56,397.34 257.86,400.89 255.16,397.34" fill="none" stroke="#ff0000" stroke-width="1.8" stroke-linejoin="round"/><polygon points="262.83,393.16 265.53,396.71 262.83,400.26 260.13,396.71" fill="none" stroke="#ff0000" stroke-width="1.8" stroke-linejoin="round"/><polygon points="267.79,392.69 270.49,396.24 267.79,399.79 265.09,396.24" fill="none" stroke="#ff0000" stroke-width="1.8" stroke-linejoin="round"/><polygon points="272.75,392.37 275.45,395.92 272.75,399.47 270.05,395.92" fill="none" stroke="#ff0000" stroke-width="1.8" stroke-linejoin="round"/><polygon points="277.72,392.04 280.42,395.59 277.72,399.14 275.02,395.59" fill="none" stroke="#ff0000" stroke-width="1.8" stroke-linejoin="round"/><polygon points="282.68,391.72 285.38,395.27 282.68,398.82 279.98,395.27" fill="none" stroke="#ff0000" stroke-width="1.8" stroke-linejoin="round"/><polygon points="287.65,391.40 290.35,394.95 287.65,398.50 284.95,394.95" fill="none" stroke="#ff0000" stroke-width="1.8" stroke-linejoin="round"/><polygon points="292.61,391.07 295.31,394.62 292.61,398.17 289.91,394.62" fill="none" stroke="#ff0000" stroke-width="1.8" stroke-linejoin="round"/><polygon points="297.58,390.75 300.28,394.30 297.58,397.85 294.88,394.30" fill="none" stroke="#ff0000" stroke-width="1.8" stroke-linejoin="round"/><polygon points="302.54,390.47 305.24,394.02 302.54,397.57 299.84,394.02" fill="none" stroke="#ff0000" stroke-width="1.8" stroke-linejoin="round"/><polygon points="307.51,390.19 310.21,393.74 307.51,397.29 304.81,393.74" fill="none" stroke="#ff0000" stroke-width="1.8" stroke-linejoin="round"/><polygon points="312.47,389.91 315.17,393.46 312.47,397.01 309.77,393.46" fill="none" stroke="#ff0000" stroke-width="1.8" stroke-linejoin="round"/><polygon points="317.44,389.63 320.14,393.18 317.44,396.73 314.74,393.18" fill="none" stroke="#ff0000" stroke-width="1.8" stroke-linejoin="round"/><polygon points="322.40,389.35 325.10,392.90 322.40,396.45 319.70,392.90" fill="none" stroke="#ff0000" stroke-width="1.8" stroke-linejoin="round"/>
<path d="M49.35,555.30 L54.31,555.00 L59.28,554.60 L64.24,554.30 L69.21,554.00 L74.17,553.70 L99.00,365.00 L103.96,352.70 L108.92,335.90 L128.78,333.10 L133.75,350.80 L138.71,362.00 L143.68,372.10 L148.64,382.20 L173.46,541.80 L198.29,538.60 L223.11,534.60 L228.07,533.78 L233.04,532.97 L238.00,532.15 L242.97,531.34 L247.93,530.52 L252.90,529.71 L257.86,528.89 L262.83,528.05 L267.79,527.17 L272.75,526.30 L277.72,525.42 L282.68,524.55 L287.65,523.67 L292.61,522.80 L297.58,521.92 L302.54,521.03 L307.51,520.15 L312.47,519.27 L317.44,518.38 L322.40,517.50" fill="none" stroke="#0000ff" stroke-width="2" stroke-dasharray="7 7.4" clip-path="url(#cb)"/><polygon points="46.15,552.60 52.55,552.60 49.35,558.00" fill="none" stroke="#0000ff" stroke-width="2.0" stroke-linejoin="round"/><polygon points="51.11,552.30 57.51,552.30 54.31,557.70" fill="none" stroke="#0000ff" stroke-width="2.0" stroke-linejoin="round"/><polygon points="56.08,551.90 62.48,551.90 59.28,557.30" fill="none" stroke="#0000ff" stroke-width="2.0" stroke-linejoin="round"/><polygon points="61.04,551.60 67.44,551.60 64.24,557.00" fill="none" stroke="#0000ff" stroke-width="2.0" stroke-linejoin="round"/><polygon points="66.01,551.30 72.41,551.30 69.21,556.70" fill="none" stroke="#0000ff" stroke-width="2.0" stroke-linejoin="round"/><polygon points="70.97,551.00 77.37,551.00 74.17,556.40" fill="none" stroke="#0000ff" stroke-width="2.0" stroke-linejoin="round"/><polygon points="95.80,362.30 102.20,362.30 99.00,367.70" fill="none" stroke="#0000ff" stroke-width="2.0" stroke-linejoin="round"/><polygon points="100.76,350.00 107.16,350.00 103.96,355.40" fill="none" stroke="#0000ff" stroke-width="2.0" stroke-linejoin="round"/><polygon points="105.72,333.20 112.12,333.20 108.92,338.60" fill="none" stroke="#0000ff" stroke-width="2.0" stroke-linejoin="round"/><polygon points="125.58,330.40 131.98,330.40 128.78,335.80" fill="none" stroke="#0000ff" stroke-width="2.0" stroke-linejoin="round"/><polygon points="130.55,348.10 136.95,348.10 133.75,353.50" fill="none" stroke="#0000ff" stroke-width="2.0" stroke-linejoin="round"/><polygon points="135.51,359.30 141.91,359.30 138.71,364.70" fill="none" stroke="#0000ff" stroke-width="2.0" stroke-linejoin="round"/><polygon points="140.48,369.40 146.88,369.40 143.68,374.80" fill="none" stroke="#0000ff" stroke-width="2.0" stroke-linejoin="round"/><polygon points="145.44,379.50 151.84,379.50 148.64,384.90" fill="none" stroke="#0000ff" stroke-width="2.0" stroke-linejoin="round"/><polygon points="170.26,539.10 176.66,539.10 173.46,544.50" fill="none" stroke="#0000ff" stroke-width="2.0" stroke-linejoin="round"/><polygon points="195.09,535.90 201.49,535.90 198.29,541.30" fill="none" stroke="#0000ff" stroke-width="2.0" stroke-linejoin="round"/><polygon points="219.91,531.90 226.31,531.90 223.11,537.30" fill="none" stroke="#0000ff" stroke-width="2.0" stroke-linejoin="round"/><polygon points="224.87,531.08 231.27,531.08 228.07,536.48" fill="none" stroke="#0000ff" stroke-width="2.0" stroke-linejoin="round"/><polygon points="229.84,530.27 236.24,530.27 233.04,535.67" fill="none" stroke="#0000ff" stroke-width="2.0" stroke-linejoin="round"/><polygon points="234.80,529.45 241.20,529.45 238.00,534.85" fill="none" stroke="#0000ff" stroke-width="2.0" stroke-linejoin="round"/><polygon points="239.77,528.64 246.17,528.64 242.97,534.04" fill="none" stroke="#0000ff" stroke-width="2.0" stroke-linejoin="round"/><polygon points="244.73,527.82 251.13,527.82 247.93,533.22" fill="none" stroke="#0000ff" stroke-width="2.0" stroke-linejoin="round"/><polygon points="249.70,527.01 256.10,527.01 252.90,532.41" fill="none" stroke="#0000ff" stroke-width="2.0" stroke-linejoin="round"/><polygon points="254.66,526.19 261.06,526.19 257.86,531.59" fill="none" stroke="#0000ff" stroke-width="2.0" stroke-linejoin="round"/><polygon points="259.63,525.35 266.03,525.35 262.83,530.75" fill="none" stroke="#0000ff" stroke-width="2.0" stroke-linejoin="round"/><polygon points="264.59,524.47 270.99,524.47 267.79,529.88" fill="none" stroke="#0000ff" stroke-width="2.0" stroke-linejoin="round"/><polygon points="269.55,523.60 275.95,523.60 272.75,529.00" fill="none" stroke="#0000ff" stroke-width="2.0" stroke-linejoin="round"/><polygon points="274.52,522.72 280.92,522.72 277.72,528.12" fill="none" stroke="#0000ff" stroke-width="2.0" stroke-linejoin="round"/><polygon points="279.48,521.85 285.88,521.85 282.68,527.25" fill="none" stroke="#0000ff" stroke-width="2.0" stroke-linejoin="round"/><polygon points="284.45,520.97 290.85,520.97 287.65,526.38" fill="none" stroke="#0000ff" stroke-width="2.0" stroke-linejoin="round"/><polygon points="289.41,520.10 295.81,520.10 292.61,525.50" fill="none" stroke="#0000ff" stroke-width="2.0" stroke-linejoin="round"/><polygon points="294.38,519.22 300.78,519.22 297.58,524.62" fill="none" stroke="#0000ff" stroke-width="2.0" stroke-linejoin="round"/><polygon points="299.34,518.33 305.74,518.33 302.54,523.73" fill="none" stroke="#0000ff" stroke-width="2.0" stroke-linejoin="round"/><polygon points="304.31,517.45 310.71,517.45 307.51,522.85" fill="none" stroke="#0000ff" stroke-width="2.0" stroke-linejoin="round"/><polygon points="309.27,516.57 315.67,516.57 312.47,521.97" fill="none" stroke="#0000ff" stroke-width="2.0" stroke-linejoin="round"/><polygon points="314.24,515.68 320.64,515.68 317.44,521.08" fill="none" stroke="#0000ff" stroke-width="2.0" stroke-linejoin="round"/><polygon points="319.20,514.80 325.60,514.80 322.40,520.20" fill="none" stroke="#0000ff" stroke-width="2.0" stroke-linejoin="round"/>
<rect x="49.35" y="326.75" width="273.05" height="272.65" fill="none" stroke="#111" stroke-width="1.25"/><line x1="49.35" y1="599.40" x2="49.35" y2="596.40" stroke="#000" stroke-width="1"/><line x1="49.35" y1="326.75" x2="49.35" y2="329.75" stroke="#000" stroke-width="1"/><line x1="74.17" y1="599.40" x2="74.17" y2="596.40" stroke="#000" stroke-width="1"/><line x1="74.17" y1="326.75" x2="74.17" y2="329.75" stroke="#000" stroke-width="1"/><line x1="99.00" y1="599.40" x2="99.00" y2="596.40" stroke="#000" stroke-width="1"/><line x1="99.00" y1="326.75" x2="99.00" y2="329.75" stroke="#000" stroke-width="1"/><line x1="123.82" y1="599.40" x2="123.82" y2="596.40" stroke="#000" stroke-width="1"/><line x1="123.82" y1="326.75" x2="123.82" y2="329.75" stroke="#000" stroke-width="1"/><line x1="148.64" y1="599.40" x2="148.64" y2="596.40" stroke="#000" stroke-width="1"/><line x1="148.64" y1="326.75" x2="148.64" y2="329.75" stroke="#000" stroke-width="1"/><line x1="173.46" y1="599.40" x2="173.46" y2="596.40" stroke="#000" stroke-width="1"/><line x1="173.46" y1="326.75" x2="173.46" y2="329.75" stroke="#000" stroke-width="1"/><line x1="198.29" y1="599.40" x2="198.29" y2="596.40" stroke="#000" stroke-width="1"/><line x1="198.29" y1="326.75" x2="198.29" y2="329.75" stroke="#000" stroke-width="1"/><line x1="223.11" y1="599.40" x2="223.11" y2="596.40" stroke="#000" stroke-width="1"/><line x1="223.11" y1="326.75" x2="223.11" y2="329.75" stroke="#000" stroke-width="1"/><line x1="247.93" y1="599.40" x2="247.93" y2="596.40" stroke="#000" stroke-width="1"/><line x1="247.93" y1="326.75" x2="247.93" y2="329.75" stroke="#000" stroke-width="1"/><line x1="272.75" y1="599.40" x2="272.75" y2="596.40" stroke="#000" stroke-width="1"/><line x1="272.75" y1="326.75" x2="272.75" y2="329.75" stroke="#000" stroke-width="1"/><line x1="297.58" y1="599.40" x2="297.58" y2="596.40" stroke="#000" stroke-width="1"/><line x1="297.58" y1="326.75" x2="297.58" y2="329.75" stroke="#000" stroke-width="1"/><line x1="322.40" y1="599.40" x2="322.40" y2="596.40" stroke="#000" stroke-width="1"/><line x1="322.40" y1="326.75" x2="322.40" y2="329.75" stroke="#000" stroke-width="1"/><line x1="49.35" y1="599.40" x2="52.55" y2="599.40" stroke="#000" stroke-width="1"/><line x1="322.40" y1="599.40" x2="319.20" y2="599.40" stroke="#000" stroke-width="1"/><line x1="49.35" y1="585.72" x2="51.35" y2="585.72" stroke="#000" stroke-width="0.9"/><line x1="322.40" y1="585.72" x2="320.40" y2="585.72" stroke="#000" stroke-width="0.9"/><line x1="49.35" y1="577.72" x2="51.35" y2="577.72" stroke="#000" stroke-width="0.9"/><line x1="322.40" y1="577.72" x2="320.40" y2="577.72" stroke="#000" stroke-width="0.9"/><line x1="49.35" y1="572.04" x2="51.35" y2="572.04" stroke="#000" stroke-width="0.9"/><line x1="322.40" y1="572.04" x2="320.40" y2="572.04" stroke="#000" stroke-width="0.9"/><line x1="49.35" y1="567.64" x2="51.35" y2="567.64" stroke="#000" stroke-width="0.9"/><line x1="322.40" y1="567.64" x2="320.40" y2="567.64" stroke="#000" stroke-width="0.9"/><line x1="49.35" y1="564.04" x2="51.35" y2="564.04" stroke="#000" stroke-width="0.9"/><line x1="322.40" y1="564.04" x2="320.40" y2="564.04" stroke="#000" stroke-width="0.9"/><line x1="49.35" y1="561.00" x2="51.35" y2="561.00" stroke="#000" stroke-width="0.9"/><line x1="322.40" y1="561.00" x2="320.40" y2="561.00" stroke="#000" stroke-width="0.9"/><line x1="49.35" y1="558.36" x2="51.35" y2="558.36" stroke="#000" stroke-width="0.9"/><line x1="322.40" y1="558.36" x2="320.40" y2="558.36" stroke="#000" stroke-width="0.9"/><line x1="49.35" y1="556.04" x2="51.35" y2="556.04" stroke="#000" stroke-width="0.9"/><line x1="322.40" y1="556.04" x2="320.40" y2="556.04" stroke="#000" stroke-width="0.9"/><line x1="49.35" y1="553.96" x2="52.55" y2="553.96" stroke="#000" stroke-width="1"/><line x1="322.40" y1="553.96" x2="319.20" y2="553.96" stroke="#000" stroke-width="1"/><line x1="49.35" y1="540.28" x2="51.35" y2="540.28" stroke="#000" stroke-width="0.9"/><line x1="322.40" y1="540.28" x2="320.40" y2="540.28" stroke="#000" stroke-width="0.9"/><line x1="49.35" y1="532.28" x2="51.35" y2="532.28" stroke="#000" stroke-width="0.9"/><line x1="322.40" y1="532.28" x2="320.40" y2="532.28" stroke="#000" stroke-width="0.9"/><line x1="49.35" y1="526.60" x2="51.35" y2="526.60" stroke="#000" stroke-width="0.9"/><line x1="322.40" y1="526.60" x2="320.40" y2="526.60" stroke="#000" stroke-width="0.9"/><line x1="49.35" y1="522.20" x2="51.35" y2="522.20" stroke="#000" stroke-width="0.9"/><line x1="322.40" y1="522.20" x2="320.40" y2="522.20" stroke="#000" stroke-width="0.9"/><line x1="49.35" y1="518.60" x2="51.35" y2="518.60" stroke="#000" stroke-width="0.9"/><line x1="322.40" y1="518.60" x2="320.40" y2="518.60" stroke="#000" stroke-width="0.9"/><line x1="49.35" y1="515.56" x2="51.35" y2="515.56" stroke="#000" stroke-width="0.9"/><line x1="322.40" y1="515.56" x2="320.40" y2="515.56" stroke="#000" stroke-width="0.9"/><line x1="49.35" y1="512.92" x2="51.35" y2="512.92" stroke="#000" stroke-width="0.9"/><line x1="322.40" y1="512.92" x2="320.40" y2="512.92" stroke="#000" stroke-width="0.9"/><line x1="49.35" y1="510.60" x2="51.35" y2="510.60" stroke="#000" stroke-width="0.9"/><line x1="322.40" y1="510.60" x2="320.40" y2="510.60" stroke="#000" stroke-width="0.9"/><line x1="49.35" y1="508.52" x2="52.55" y2="508.52" stroke="#000" stroke-width="1"/><line x1="322.40" y1="508.52" x2="319.20" y2="508.52" stroke="#000" stroke-width="1"/><line x1="49.35" y1="494.84" x2="51.35" y2="494.84" stroke="#000" stroke-width="0.9"/><line x1="322.40" y1="494.84" x2="320.40" y2="494.84" stroke="#000" stroke-width="0.9"/><line x1="49.35" y1="486.84" x2="51.35" y2="486.84" stroke="#000" stroke-width="0.9"/><line x1="322.40" y1="486.84" x2="320.40" y2="486.84" stroke="#000" stroke-width="0.9"/><line x1="49.35" y1="481.16" x2="51.35" y2="481.16" stroke="#000" stroke-width="0.9"/><line x1="322.40" y1="481.16" x2="320.40" y2="481.16" stroke="#000" stroke-width="0.9"/><line x1="49.35" y1="476.75" x2="51.35" y2="476.75" stroke="#000" stroke-width="0.9"/><line x1="322.40" y1="476.75" x2="320.40" y2="476.75" stroke="#000" stroke-width="0.9"/><line x1="49.35" y1="473.16" x2="51.35" y2="473.16" stroke="#000" stroke-width="0.9"/><line x1="322.40" y1="473.16" x2="320.40" y2="473.16" stroke="#000" stroke-width="0.9"/><line x1="49.35" y1="470.11" x2="51.35" y2="470.11" stroke="#000" stroke-width="0.9"/><line x1="322.40" y1="470.11" x2="320.40" y2="470.11" stroke="#000" stroke-width="0.9"/><line x1="49.35" y1="467.48" x2="51.35" y2="467.48" stroke="#000" stroke-width="0.9"/><line x1="322.40" y1="467.48" x2="320.40" y2="467.48" stroke="#000" stroke-width="0.9"/><line x1="49.35" y1="465.15" x2="51.35" y2="465.15" stroke="#000" stroke-width="0.9"/><line x1="322.40" y1="465.15" x2="320.40" y2="465.15" stroke="#000" stroke-width="0.9"/><line x1="49.35" y1="463.07" x2="52.55" y2="463.07" stroke="#000" stroke-width="1"/><line x1="322.40" y1="463.07" x2="319.20" y2="463.07" stroke="#000" stroke-width="1"/><line x1="49.35" y1="449.40" x2="51.35" y2="449.40" stroke="#000" stroke-width="0.9"/><line x1="322.40" y1="449.40" x2="320.40" y2="449.40" stroke="#000" stroke-width="0.9"/><line x1="49.35" y1="441.39" x2="51.35" y2="441.39" stroke="#000" stroke-width="0.9"/><line x1="322.40" y1="441.39" x2="320.40" y2="441.39" stroke="#000" stroke-width="0.9"/><line x1="49.35" y1="435.72" x2="51.35" y2="435.72" stroke="#000" stroke-width="0.9"/><line x1="322.40" y1="435.72" x2="320.40" y2="435.72" stroke="#000" stroke-width="0.9"/><line x1="49.35" y1="431.31" x2="51.35" y2="431.31" stroke="#000" stroke-width="0.9"/><line x1="322.40" y1="431.31" x2="320.40" y2="431.31" stroke="#000" stroke-width="0.9"/><line x1="49.35" y1="427.71" x2="51.35" y2="427.71" stroke="#000" stroke-width="0.9"/><line x1="322.40" y1="427.71" x2="320.40" y2="427.71" stroke="#000" stroke-width="0.9"/><line x1="49.35" y1="424.67" x2="51.35" y2="424.67" stroke="#000" stroke-width="0.9"/><line x1="322.40" y1="424.67" x2="320.40" y2="424.67" stroke="#000" stroke-width="0.9"/><line x1="49.35" y1="422.04" x2="51.35" y2="422.04" stroke="#000" stroke-width="0.9"/><line x1="322.40" y1="422.04" x2="320.40" y2="422.04" stroke="#000" stroke-width="0.9"/><line x1="49.35" y1="419.71" x2="51.35" y2="419.71" stroke="#000" stroke-width="0.9"/><line x1="322.40" y1="419.71" x2="320.40" y2="419.71" stroke="#000" stroke-width="0.9"/><line x1="49.35" y1="417.63" x2="52.55" y2="417.63" stroke="#000" stroke-width="1"/><line x1="322.40" y1="417.63" x2="319.20" y2="417.63" stroke="#000" stroke-width="1"/><line x1="49.35" y1="403.95" x2="51.35" y2="403.95" stroke="#000" stroke-width="0.9"/><line x1="322.40" y1="403.95" x2="320.40" y2="403.95" stroke="#000" stroke-width="0.9"/><line x1="49.35" y1="395.95" x2="51.35" y2="395.95" stroke="#000" stroke-width="0.9"/><line x1="322.40" y1="395.95" x2="320.40" y2="395.95" stroke="#000" stroke-width="0.9"/><line x1="49.35" y1="390.27" x2="51.35" y2="390.27" stroke="#000" stroke-width="0.9"/><line x1="322.40" y1="390.27" x2="320.40" y2="390.27" stroke="#000" stroke-width="0.9"/><line x1="49.35" y1="385.87" x2="51.35" y2="385.87" stroke="#000" stroke-width="0.9"/><line x1="322.40" y1="385.87" x2="320.40" y2="385.87" stroke="#000" stroke-width="0.9"/><line x1="49.35" y1="382.27" x2="51.35" y2="382.27" stroke="#000" stroke-width="0.9"/><line x1="322.40" y1="382.27" x2="320.40" y2="382.27" stroke="#000" stroke-width="0.9"/><line x1="49.35" y1="379.23" x2="51.35" y2="379.23" stroke="#000" stroke-width="0.9"/><line x1="322.40" y1="379.23" x2="320.40" y2="379.23" stroke="#000" stroke-width="0.9"/><line x1="49.35" y1="376.60" x2="51.35" y2="376.60" stroke="#000" stroke-width="0.9"/><line x1="322.40" y1="376.60" x2="320.40" y2="376.60" stroke="#000" stroke-width="0.9"/><line x1="49.35" y1="374.27" x2="51.35" y2="374.27" stroke="#000" stroke-width="0.9"/><line x1="322.40" y1="374.27" x2="320.40" y2="374.27" stroke="#000" stroke-width="0.9"/><line x1="49.35" y1="372.19" x2="52.55" y2="372.19" stroke="#000" stroke-width="1"/><line x1="322.40" y1="372.19" x2="319.20" y2="372.19" stroke="#000" stroke-width="1"/><line x1="49.35" y1="358.51" x2="51.35" y2="358.51" stroke="#000" stroke-width="0.9"/><line x1="322.40" y1="358.51" x2="320.40" y2="358.51" stroke="#000" stroke-width="0.9"/><line x1="49.35" y1="350.51" x2="51.35" y2="350.51" stroke="#000" stroke-width="0.9"/><line x1="322.40" y1="350.51" x2="320.40" y2="350.51" stroke="#000" stroke-width="0.9"/><line x1="49.35" y1="344.83" x2="51.35" y2="344.83" stroke="#000" stroke-width="0.9"/><line x1="322.40" y1="344.83" x2="320.40" y2="344.83" stroke="#000" stroke-width="0.9"/><line x1="49.35" y1="340.43" x2="51.35" y2="340.43" stroke="#000" stroke-width="0.9"/><line x1="322.40" y1="340.43" x2="320.40" y2="340.43" stroke="#000" stroke-width="0.9"/><line x1="49.35" y1="336.83" x2="51.35" y2="336.83" stroke="#000" stroke-width="0.9"/><line x1="322.40" y1="336.83" x2="320.40" y2="336.83" stroke="#000" stroke-width="0.9"/><line x1="49.35" y1="333.79" x2="51.35" y2="333.79" stroke="#000" stroke-width="0.9"/><line x1="322.40" y1="333.79" x2="320.40" y2="333.79" stroke="#000" stroke-width="0.9"/><line x1="49.35" y1="331.15" x2="51.35" y2="331.15" stroke="#000" stroke-width="0.9"/><line x1="322.40" y1="331.15" x2="320.40" y2="331.15" stroke="#000" stroke-width="0.9"/><line x1="49.35" y1="328.83" x2="51.35" y2="328.83" stroke="#000" stroke-width="0.9"/><line x1="322.40" y1="328.83" x2="320.40" y2="328.83" stroke="#000" stroke-width="0.9"/><line x1="49.35" y1="326.75" x2="52.55" y2="326.75" stroke="#000" stroke-width="1"/><line x1="322.40" y1="326.75" x2="319.20" y2="326.75" stroke="#000" stroke-width="1"/>
<text x="49.35" y="614.40" class="tk" text-anchor="middle">-4.5</text><text x="74.17" y="614.40" class="tk" text-anchor="middle">-4</text><text x="99.00" y="614.40" class="tk" text-anchor="middle">-3.5</text><text x="123.82" y="614.40" class="tk" text-anchor="middle">-3</text><text x="148.64" y="614.40" class="tk" text-anchor="middle">-2.5</text><text x="173.46" y="614.40" class="tk" text-anchor="middle">-2</text><text x="198.29" y="614.40" class="tk" text-anchor="middle">-1.5</text><text x="223.11" y="614.40" class="tk" text-anchor="middle">-1</text><text x="247.93" y="614.40" class="tk" text-anchor="middle">-0.5</text><text x="272.75" y="614.40" class="tk" text-anchor="middle">0</text><text x="297.58" y="614.40" class="tk" text-anchor="middle">0.5</text><text x="322.40" y="614.40" class="tk" text-anchor="middle">1</text><text x="45.35" y="600.60" class="tk sup" text-anchor="end">5</text><rect x="39.25" y="596.90" width="2.1" height="1.2" fill="#333"/><text x="37.52" y="605.60" class="tk ten" text-anchor="end">10</text><text x="45.35" y="555.16" class="tk sup" text-anchor="end">4</text><rect x="39.25" y="551.46" width="2.1" height="1.2" fill="#333"/><text x="37.52" y="560.16" class="tk ten" text-anchor="end">10</text><text x="45.35" y="509.72" class="tk sup" text-anchor="end">3</text><rect x="39.25" y="506.02" width="2.1" height="1.2" fill="#333"/><text x="37.52" y="514.72" class="tk ten" text-anchor="end">10</text><text x="45.35" y="464.27" class="tk sup" text-anchor="end">2</text><rect x="39.25" y="460.57" width="2.1" height="1.2" fill="#333"/><text x="37.52" y="469.27" class="tk ten" text-anchor="end">10</text><text x="45.35" y="418.83" class="tk sup" text-anchor="end">1</text><rect x="39.25" y="415.13" width="2.1" height="1.2" fill="#333"/><text x="37.52" y="423.83" class="tk ten" text-anchor="end">10</text><text x="45.35" y="373.39" class="tk sup" text-anchor="end">0</text><text x="41.01" y="378.39" class="tk ten" text-anchor="end">10</text><text x="45.35" y="327.95" class="tk sup" text-anchor="end">1</text><text x="41.01" y="332.95" class="tk ten" text-anchor="end">10</text>
<line x1="265.2" y1="350.3" x2="282.7" y2="350.3" stroke="#ff0000" stroke-width="1.8" stroke-dasharray="9 5.3 3.2"/>
<polygon points="274.30,346.85 277.00,350.40 274.30,353.95 271.60,350.40" fill="none" stroke="#ff0000" stroke-width="1.8" stroke-linejoin="round"/>
<text x="286.3" y="354.1" class="lg">VII</text>
<line x1="265.2" y1="366.2" x2="282.7" y2="366.2" stroke="#0000ff" stroke-width="1.8" stroke-dasharray="9 5.3 3.2"/>
<polygon points="271.10,363.90 277.50,363.90 274.30,369.30" fill="none" stroke="#0000ff" stroke-width="2.0" stroke-linejoin="round"/>
<text x="286.3" y="369.8" class="lg">V</text>
<text x="3.6" y="332.2" class="pl">(b)</text>
<text x="172" y="632" class="fl">F</text>
<g transform="translate(14.50,522.30) rotate(-90)"><text x="2.40" y="0.00" class="ml">σ</text><text x="13.00" y="-5.70" class="ms">IPEP</text><text x="44.00" y="0.00" class="ml">−</text><text x="58.00" y="0.00" class="ml">σ</text><text x="68.00" y="-5.70" class="ms">L</text><text x="85.40" y="0.00" class="ml">σ</text><text x="95.50" y="-5.70" class="ms">IPEP</text></g><line x1="3.10" y1="521.60" x2="17.10" y2="521.60" stroke="#222" stroke-width="1.1"/><line x1="3.30" y1="445.80" x2="17.20" y2="445.80" stroke="#222" stroke-width="1.1"/><line x1="3.70" y1="437.70" x2="17.00" y2="442.60" stroke="#222" stroke-width="1.1"/>
</svg>
</body></html>
